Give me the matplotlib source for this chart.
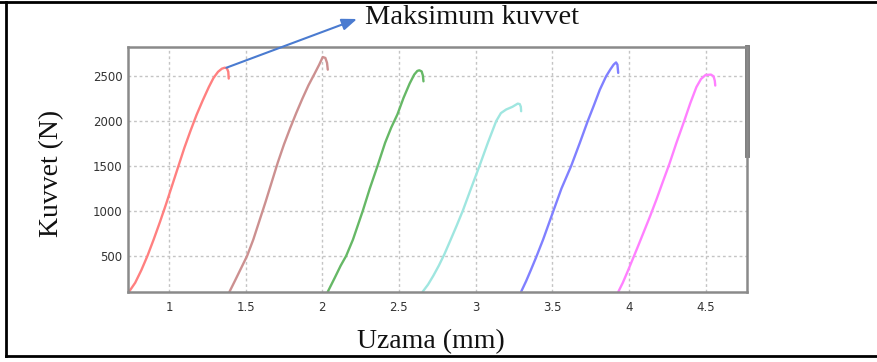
import matplotlib
matplotlib.use("Agg")
import matplotlib.pyplot as plt
from matplotlib.lines import Line2D

# ---- data ----
red_x = [0.74, 0.78, 0.82, 0.86, 0.90, 0.94, 0.98, 1.02, 1.06, 1.10, 1.14, 1.18, 1.22, 1.26, 1.29, 1.32, 1.345, 1.364, 1.378, 1.387, 1.39]
red_y = [100, 200, 340, 500, 680, 870, 1070, 1280, 1490, 1700, 1890, 2070, 2230, 2380, 2480, 2550, 2585, 2596, 2590, 2550, 2475]

brown_x = [1.395, 1.43, 1.47, 1.51, 1.55, 1.59, 1.63, 1.67, 1.71, 1.75, 1.79, 1.83, 1.87, 1.91, 1.95, 1.98, 2.003, 2.02, 2.031, 2.036]
brown_y = [100, 220, 360, 500, 680, 890, 1100, 1320, 1540, 1740, 1920, 2090, 2250, 2400, 2530, 2630, 2715, 2705, 2650, 2574]

green_x = [2.036, 2.08, 2.12, 2.156, 2.20, 2.24, 2.264, 2.31, 2.36, 2.41, 2.45, 2.49, 2.53, 2.57, 2.60, 2.62, 2.633, 2.648, 2.656, 2.66]
green_y = [100, 250, 390, 500, 680, 880, 1000, 1250, 1500, 1760, 1930, 2075, 2260, 2420, 2520, 2560, 2567, 2555, 2510, 2444]

cyan_x = [2.655, 2.69, 2.725, 2.76, 2.797, 2.835, 2.875, 2.916, 2.97, 3.025, 3.08, 3.134, 3.165, 3.199, 3.24, 3.275, 3.288, 3.295, 3.297]
cyan_y = [100, 180, 280, 390, 520, 670, 830, 1000, 1250, 1500, 1760, 2000, 2090, 2130, 2160, 2196, 2190, 2160, 2111]

blue_x = [3.297, 3.33, 3.36, 3.394, 3.44, 3.48, 3.503, 3.56, 3.623, 3.68, 3.731, 3.77, 3.81, 3.851, 3.88, 3.90, 3.916, 3.925, 3.93]
blue_y = [100, 220, 340, 480, 680, 870, 980, 1250, 1500, 1760, 2000, 2170, 2350, 2500, 2580, 2630, 2655, 2630, 2538]

magenta_x = [3.931, 3.96, 3.99, 4.024, 4.06, 4.10, 4.14, 4.18, 4.22, 4.263, 4.31, 4.36, 4.40, 4.44, 4.47, 4.50, 4.535, 4.552, 4.56, 4.563]
magenta_y = [100, 200, 320, 460, 610, 780, 950, 1130, 1320, 1520, 1760, 2000, 2200, 2380, 2470, 2515, 2519, 2500, 2450, 2397]

series_x = [red_x, brown_x, green_x, cyan_x, blue_x, magenta_x]
series_y = [red_y, brown_y, green_y, cyan_y, blue_y, magenta_y]
colors = ["#ff8080", "#cc9090", "#66b866", "#9fe6e0", "#8080ff", "#ff80ff"]

xticks = [1, 1.5, 2, 2.5, 3, 3.5, 4, 4.5]
xtick_labels = ["1", "1.5", "2", "2.5", "3", "3.5", "4", "4.5"]
yticks = [500, 1000, 1500, 2000, 2500]
ytick_labels = ["500", "1000", "1500", "2000", "2500"]

peak_point = (1.375, 2596)

# ---- figure ----
W, H = 878, 362
fig = plt.figure(figsize=(W / 100, H / 100), dpi=100)
ax = fig.add_axes([128 / W, 1 - 291.7 / H, (747 - 128) / W, (291.7 - 46.7) / H])

for xs, ys, c in zip(series_x, series_y, colors):
    ax.plot(xs, ys, color=c, lw=1.7, solid_capstyle="round", solid_joinstyle="round")

ax.set_xlim(0.733, 4.77)
ax.set_ylim(100, 2830)
ax.set_xticks(xticks)
ax.set_xticklabels(xtick_labels)
ax.set_yticks(yticks)
ax.set_yticklabels(ytick_labels)
ax.tick_params(length=0, labelsize=8.5, colors="#333333", pad=7)
ax.tick_params(axis="y", pad=4)
ax.grid(True, color="#c4c4c4", ls=(0, (2, 2)), lw=1.0)
for s in ax.spines.values():
    s.set_color("#8a8a8a")
    s.set_linewidth(1.8)

# darker thick right border segment at top
ax.add_line(Line2D([1.0, 1.0], [1.0, (291.7 - 155) / (291.7 - 46.7)], transform=ax.transAxes,
                   color="#777777", lw=3.5, clip_on=False))

serif = ["Liberation Serif", "DejaVu Serif"]
fig.text(52 / W, 1 - 173 / H, "Kuvvet (N)", rotation=90, ha="center", va="center",
         fontsize=20, family=serif, color="#111111")
fig.text(431 / W, 1 - 342 / H, "Uzama (mm)", ha="center", va="center",
         fontsize=20, family=serif, color="#111111")
fig.text(365 / W, 1 - 18 / H, "Maksimum kuvvet", ha="left", va="center",
         fontsize=20.5, family=serif, color="#111111")

ax.annotate("", xy=(357 / W, 1 - 19 / H), xycoords="figure fraction",
            xytext=peak_point, textcoords="data",
            arrowprops=dict(arrowstyle="-|>,head_length=0.9,head_width=0.35",
                            color="#4a7bd0", lw=1.5, shrinkA=0, shrinkB=0),
            annotation_clip=False)

# outer border (top, left, bottom)
fig.add_artist(Line2D([0, 1], [1 - 1.5 / H, 1 - 1.5 / H], transform=fig.transFigure, color="black", lw=2))
fig.add_artist(Line2D([6 / W, 6 / W], [1 - 1.5 / H, 1 - 355.5 / H], transform=fig.transFigure, color="black", lw=2))
fig.add_artist(Line2D([6 / W, 1], [1 - 355.5 / H, 1 - 355.5 / H], transform=fig.transFigure, color="black", lw=2))

fig.savefig("out.png", dpi=100)
